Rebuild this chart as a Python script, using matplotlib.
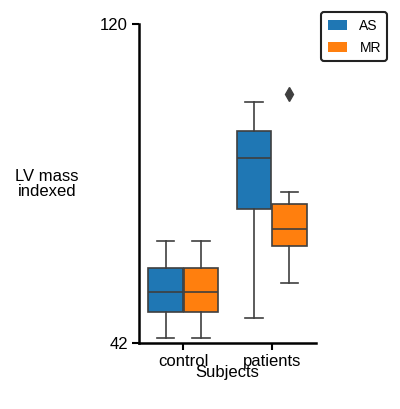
import matplotlib.pyplot as plt
from matplotlib.patches import Patch

plt.rcParams['font.family'] = ['Liberation Sans', 'DejaVu Sans']

# Data (box stats per group)
categories = ['control', 'patients']
hues = ['AS', 'MR']
colors = ['#1f77b4', '#ff7f0e']

whislo = {'AS': [43.2, 48.0], 'MR': [43.2, 56.7]}
q1 = {'AS': [49.5, 74.7], 'MR': [49.5, 65.7]}
med = {'AS': [54.4, 87.2], 'MR': [54.4, 69.8]}
q3 = {'AS': [60.3, 93.8], 'MR': [60.3, 75.9]}
whishi = {'AS': [66.9, 100.9], 'MR': [66.9, 78.9]}
fliers = {'AS': [[], []], 'MR': [[], [102.9]]}

fig = plt.figure(figsize=(4.0, 4.09), dpi=100)
ax = fig.add_axes([0.3475, 0.1614, 0.4425, 0.78])

line_col = '#3f3f3f'
offsets = [-0.2, 0.2]
for h, (hue, col) in enumerate(zip(hues, colors)):
    stats = []
    for i in range(len(categories)):
        stats.append(dict(whislo=whislo[hue][i], q1=q1[hue][i], med=med[hue][i],
                          q3=q3[hue][i], whishi=whishi[hue][i],
                          fliers=fliers[hue][i]))
    pos = [i + offsets[h] for i in range(len(categories))]
    ax.bxp(stats, positions=pos, widths=0.39, patch_artist=True,
           boxprops=dict(facecolor=col, edgecolor=line_col, linewidth=1.2),
           medianprops=dict(color=line_col, linewidth=1.2),
           whiskerprops=dict(color=line_col, linewidth=1.2),
           capprops=dict(color=line_col, linewidth=1.2),
           flierprops=dict(marker='d', markerfacecolor=line_col,
                           markeredgecolor=line_col, markersize=7))

ax.set_xlim(-0.5, 1.5)
ax.set_ylim(42, 120)
ax.set_yticks([42, 120])
ax.set_xticks(range(len(categories)))
ax.set_xticklabels(categories)
ax.tick_params(labelsize=12, width=1.5, length=5, pad=3)
for s in ['top', 'right']:
    ax.spines[s].set_visible(False)
for s in ['left', 'bottom']:
    ax.spines[s].set_linewidth(1.8)

ax.set_xlabel('Subjects', fontsize=12, labelpad=-3)
fig.text(0.118, 0.551, 'LV mass\nindexed', ha='center', va='center',
         fontsize=12, linespacing=1.0)

handles = [Patch(facecolor=c, label=h) for h, c in zip(hues, colors)]
leg = fig.legend(handles=handles, loc='upper right', bbox_to_anchor=(0.968, 0.97),
                 fontsize=10, frameon=True, fancybox=True, framealpha=1,
                 handlelength=1.4, handleheight=0.7, handletextpad=0.9,
                 borderpad=0.45, labelspacing=0.6, borderaxespad=0)
leg.get_frame().set_edgecolor('#222222')
leg.get_frame().set_linewidth(1.5)

fig.savefig('out.png', dpi=100)
